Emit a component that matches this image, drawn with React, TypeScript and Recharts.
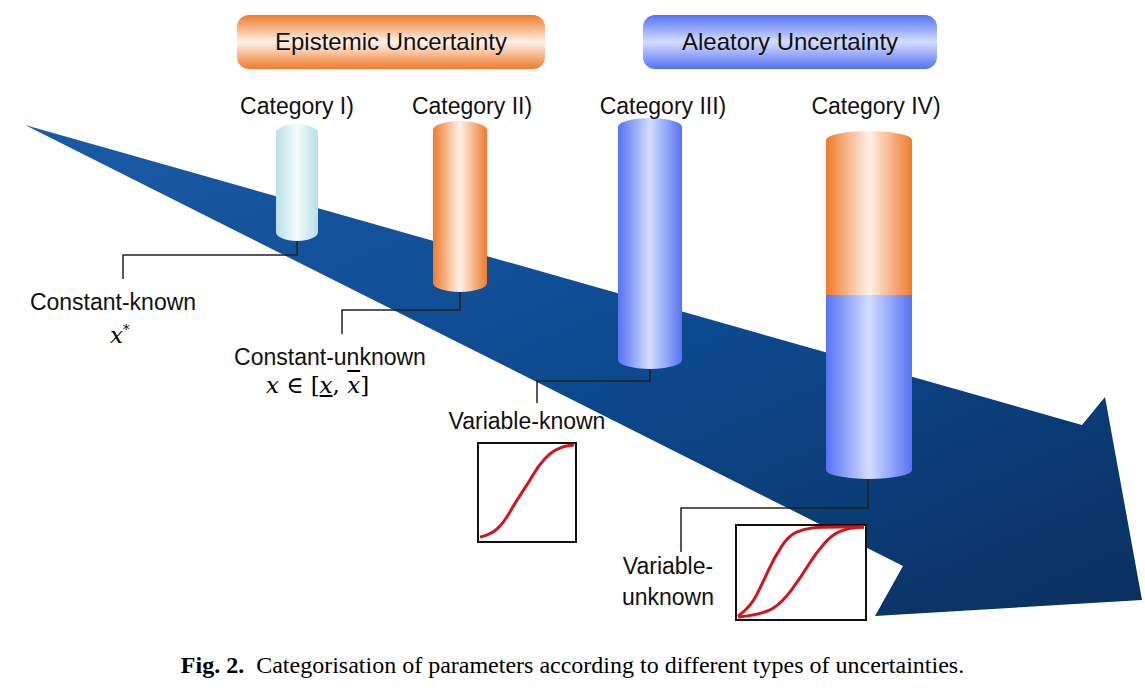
import React from "react";
import { ComposedChart, Scatter, XAxis, YAxis } from "recharts";

const W = 1145, H = 694;
const arrowPts = [[25,125],[1082,425],[1105,397],[1142,600],[875,616],[903,566]];
const arrow = [{ x: 25, y: 125 }];
const headers = [
  { x: 391, y: 42, w: 308, label: "Epistemic Uncertainty", kind: "orange" },
  { x: 790, y: 42, w: 294, label: "Aleatory Uncertainty", kind: "blue" },
];
const cylinders = [
  { x: 297, y: 133, w: 42, bottom: 232, kind: "cyan", split: 0 },
  { x: 460, y: 130, w: 54, bottom: 283, kind: "orange", split: 0 },
  { x: 650, y: 127, w: 64, bottom: 360, kind: "blue", split: 0 },
  { x: 869, y: 140, w: 86, bottom: 470, kind: "blue", split: 295 },
];
const categoryLabels = [
  { x: 297, y: 114, label: "Category I)" },
  { x: 472, y: 114, label: "Category II)" },
  { x: 663, y: 114, label: "Category III)" },
  { x: 876, y: 114, label: "Category IV)" },
];
const connectors = [
  { x: 297, y: 232, pts: [[297,255],[123,255],[123,279]] },
  { x: 460, y: 283, pts: [[460,310],[342,310],[342,334]] },
  { x: 650, y: 360, pts: [[650,381],[537,381],[537,403]] },
  { x: 868, y: 470, pts: [[868,508],[681,508],[681,552]] },
];
const labels = [
  { x: 113, y: 310, label: "Constant-known" },
  { x: 330, y: 365, label: "Constant-unknown" },
  { x: 527, y: 429, label: "Variable-known" },
  { x: 668, y: 574, label: "Variable-" },
  { x: 668, y: 605, label: "unknown" },
];
const insets = [
  { x: 478, y: 443, w: 98, h: 99 },
  { x: 736, y: 525, w: 130, h: 95 },
];
// S-curves in unit coords (0..1 of inset box), from picture
const curveA = [[0,0.97],[0.12,0.94],[0.25,0.82],[0.38,0.6],[0.5,0.42],[0.62,0.22],[0.76,0.07],[0.9,0.01],[1,0]];
const curveB1 = [[0,0.98],[0.1,0.88],[0.2,0.6],[0.29,0.33],[0.4,0.1],[0.52,0.02],[0.65,0],[1,0]];
const curveB2 = [[0,0.99],[0.2,0.96],[0.35,0.83],[0.5,0.55],[0.62,0.28],[0.75,0.08],[0.88,0.01],[1,0]];
const insetCurves = [[curveA], [curveB1, curveB2]];

const grads: Record<string, [string, string]> = {
  orange: ["#f07a2a", "#fff2ea"],
  blue: ["#5672f2", "#d4ddff"],
  cyan: ["#b8dfe8", "#f4fcfd"],
};
const font = "'Liberation Sans', Arial, sans-serif";

const smooth = (pts: number[][]) => {
  let d = `M${pts[0][0]},${pts[0][1]}`;
  for (let i = 1; i < pts.length - 1; i++) {
    const mx = (pts[i][0] + pts[i + 1][0]) / 2, my = (pts[i][1] + pts[i + 1][1]) / 2;
    d += ` Q${pts[i][0]},${pts[i][1]} ${mx},${my}`;
  }
  const l = pts[pts.length - 1];
  return d + ` L${l[0]},${l[1]}`;
};

const ArrowShape = () => (
  <polygon points={arrowPts.map(p => p.join(",")).join(" ")} fill="url(#arrowG)" />
);

const HeaderShape = (p: any) => {
  const d = p.payload; const h = 54;
  return (
    <g>
      <rect x={p.cx - d.w / 2} y={p.cy - h / 2} width={d.w} height={h} rx={12} fill={`url(#hv_${d.kind})`} />
      <text x={p.cx} y={p.cy + 8} textAnchor="middle" fontFamily={font} fontSize={24} fill="#111">{d.label}</text>
    </g>
  );
};

const CylShape = (p: any) => {
  const d = p.payload; const rx = d.w / 2, ry = 9; const x0 = p.cx - rx;
  const bot = d.bottom;
  const parts = d.split ? [["orange", d.y, d.split], ["blue", d.split, bot]] : [[d.kind, d.y, bot]];
  return (
    <g>
      {parts.map(([k, a, b]: any, i: number) => (
        <g key={i}>
          <rect x={x0} y={a} width={d.w} height={b - a} fill={`url(#h_${k})`} />
          <ellipse cx={p.cx} cy={b} rx={rx} ry={ry} fill={`url(#h_${k})`} />
        </g>
      ))}
      <ellipse cx={p.cx} cy={d.y} rx={rx} ry={ry} fill={`url(#h_${d.split ? "orange" : d.kind})`} />
    </g>
  );
};

const TextShape = (p: any) => (
  <text x={p.cx} y={p.cy} textAnchor="middle" fontFamily={font} fontSize={23} fill="#111">{p.payload.label}</text>
);

const ConnShape = (p: any) => (
  <polyline points={[[p.cx, p.cy], ...p.payload.pts].map((q: any) => q.join(",")).join(" ")} fill="none" stroke="#222" strokeWidth={1.5} />
);

const InsetShape = (p: any) => {
  const d = p.payload; const i = p.index;
  return (
    <g>
      <rect x={p.cx} y={p.cy} width={d.w} height={d.h} fill="#fff" stroke="#111" strokeWidth={2} />
      {insetCurves[i].map((c, j) => (
        <path key={j} d={smooth(c.map(([u, v]) => [p.cx + 2 + u * (d.w - 4), p.cy + 2 + v * (d.h - 4)]))}
          fill="none" stroke="#d0161c" strokeWidth={3} />
      ))}
    </g>
  );
};

export default function App() {
  return (
    <div style={{ position: "absolute", left: 0, top: 0, width: W, height: H, background: "#fff" }}>
      <ComposedChart width={W} height={H} margin={{ top: 0, right: 0, bottom: 0, left: 0 }}>
        <defs>
          <linearGradient id="arrowG" x1="0" y1="0" x2="1" y2="1">
            <stop offset="0" stopColor="#1b5aa6" />
            <stop offset="0.5" stopColor="#0d4a90" />
            <stop offset="1" stopColor="#0a2f5e" />
          </linearGradient>
          {Object.entries(grads).map(([k, [e, c]]) => (
            <React.Fragment key={k}>
              <linearGradient id={`h_${k}`} x1="0" y1="0" x2="1" y2="0">
                <stop offset="0" stopColor={e} /><stop offset="0.5" stopColor={c} /><stop offset="1" stopColor={e} />
              </linearGradient>
              <linearGradient id={`hv_${k}`} x1="0" y1="0" x2="0" y2="1">
                <stop offset="0" stopColor={e} /><stop offset="0.5" stopColor={c} /><stop offset="1" stopColor={e} />
              </linearGradient>
            </React.Fragment>
          ))}
        </defs>
        <XAxis type="number" dataKey="x" domain={[0, W]} hide allowDataOverflow />
        <YAxis type="number" dataKey="y" domain={[0, H]} reversed hide allowDataOverflow />
        <Scatter data={arrow} shape={ArrowShape} isAnimationActive={false} />
        <Scatter data={connectors} shape={ConnShape} isAnimationActive={false} />
        <Scatter data={headers} shape={HeaderShape} isAnimationActive={false} />
        <Scatter data={cylinders} shape={CylShape} isAnimationActive={false} />
        <Scatter data={categoryLabels} shape={TextShape} isAnimationActive={false} />
        <Scatter data={labels} shape={TextShape} isAnimationActive={false} />
        <Scatter data={insets} shape={InsetShape} isAnimationActive={false} />
      </ComposedChart>
      <div style={{ position: "absolute", left: 110, top: 322, fontFamily: "'DejaVu Serif', serif", fontStyle: "italic", fontSize: 23 }}>x<sup style={{ fontSize: 13 }}>*</sup></div>
      <div style={{ position: "absolute", left: 266, top: 372, fontFamily: "'DejaVu Serif', serif", fontSize: 23 }}>
        <i>x</i> ∈ [<i style={{ textDecoration: "underline" }}>x</i>, <i style={{ textDecoration: "overline" }}>x</i>]
      </div>
      <div style={{ position: "absolute", left: 0, width: W, top: 652, textAlign: "center", fontFamily: "'Liberation Serif', serif", fontSize: 24 }}>
        <b>Fig. 2.</b>&nbsp; Categorisation of parameters according to different types of uncertainties.
      </div>
    </div>
  );
}
